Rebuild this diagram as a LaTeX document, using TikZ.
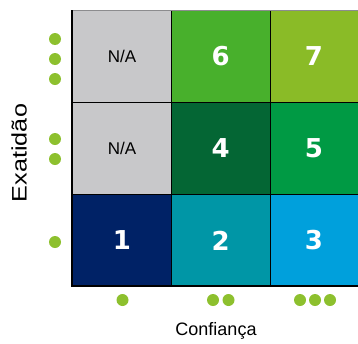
\documentclass[tikz,border=0pt]{standalone}
\usepackage{fontspec}
\setmainfont{Liberation Sans}
\newfontfamily\numfont{DejaVu Sans}
\usepackage{tikz}
\definecolor{naGrey}{HTML}{C8C8CA}
\definecolor{lvlOne}{HTML}{002266}
\definecolor{lvlTwo}{HTML}{0096A6}
\definecolor{lvlThree}{HTML}{00A0DC}
\definecolor{lvlFour}{HTML}{046634}
\definecolor{lvlFive}{HTML}{009A44}
\definecolor{lvlSix}{HTML}{48B02C}
\definecolor{lvlSeven}{HTML}{8ABB27}
\definecolor{dotGreen}{HTML}{8DC02E}
\tikzset{%
  % Specifications for style of nodes:
       cell/.style = {rectangle, draw=black, line width=0.7pt, inner sep=0pt,
                      minimum width=98.5pt, minimum height=92pt},
     narrow/.style = {cell, minimum width=88pt},
     nacell/.style = {cell, fill=naGrey, font=\fontsize{17}{20}\selectfont},
    numcell/.style = {text=white, font=\numfont\bfseries\fontsize{26}{30}\selectfont},
        dot/.style = {circle, fill=dotGreen, inner sep=0pt, minimum size=12pt},
  axislabel/.style = {font=\fontsize{18}{21}\selectfont},
}
\begin{document}
\begin{tikzpicture}[x=1pt, y=-1pt]
  \useasboundingbox (0,0) rectangle (358,343);
  % Specification of cells (position, etc.)
  \node (na3)   [nacell]                    at (122,56.5)  {N/A};
  \node (six)   [cell, numcell, fill=lvlSix]   at (220.75,56.5) {6};
  \node (seven) [narrow, numcell, fill=lvlSeven] at (314,56.5) {7};
  \node (na2)   [nacell]                    at (122,148.5) {N/A};
  \node (four)  [cell, numcell, fill=lvlFour]  at (220.75,148.5) {4};
  \node (five)  [narrow, numcell, fill=lvlFive] at (314,148.5) {5};
  \node (one)   [cell, numcell, fill=lvlOne]   at (122,240.5) {1};
  \node (two)   [cell, numcell, fill=lvlTwo]   at (220.75,240.5) {2};
  \node (three) [narrow, numcell, fill=lvlThree] at (314,240.5) {3};
  % top edge in grey, axes in thick black
  \draw[naGrey!70!black, line width=0.7pt] (na3.north west) -- (seven.north east);
  \draw[white, line width=1pt] ([yshift=-1.2pt]one.south west) -- ([yshift=-1.2pt]three.south east);
  \draw[black, line width=2pt] (na3.north west) -- ([yshift=1pt]one.south west)
                                               -- ([yshift=1pt]three.south east);
  % dots for Exatidao
  \foreach \y in {39,59,79,139,159,242}
    \node[dot] at (55,\y) {};
  % dots for Confianca
  \foreach \x in {122.5,213,228.5,300,315,330}
    \node[dot] at (\x,300) {};
  % axis labels
  \node (exat) [axislabel, rotate=90, font=\fontsize{21}{24}\selectfont] at (19,153) {\scalebox{1.2}[1]{Exatidão}};
  \node (conf) [axislabel] at (216,331) {Confiança};
\end{tikzpicture}
\end{document}
